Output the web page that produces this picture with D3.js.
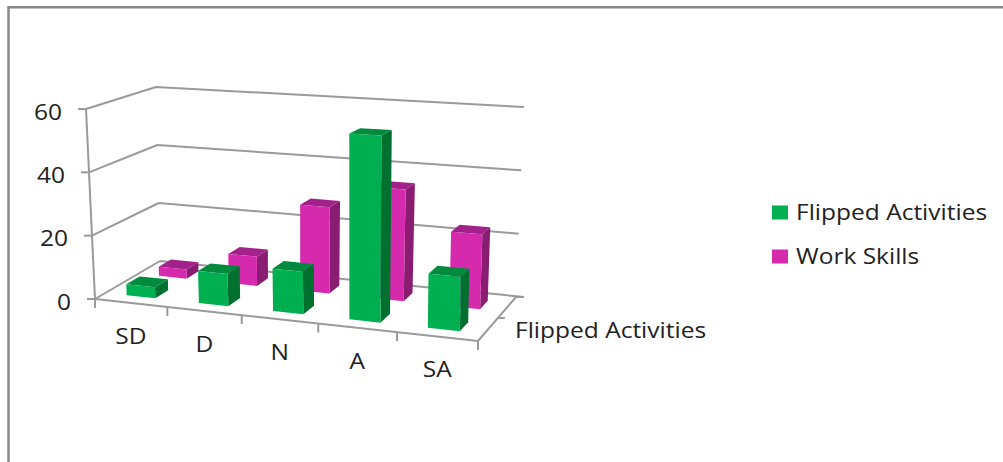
<!DOCTYPE html>
<html>
<head>
<meta charset="utf-8">
<script src="https://cdnjs.cloudflare.com/ajax/libs/d3/7.8.5/d3.min.js"></script>
<style>
html,body{margin:0;padding:0;background:#fff;}
svg{display:block;}
text{font-family:"Open Sans",sans-serif;fill:#222;}
</style>
</head>
<body>
<svg id="chart" width="1003" height="462"></svg>
<script>
const categories = ["SD", "D", "N", "A", "SA"];
const seriesNames = ["Work Skills", "Flipped Activities"];
const workSkills = [3, 9.5, 27.5, 35, 23];
const flippedActivities = [3.5, 10, 13, 56, 16];
const yTicks = [0, 20, 40, 60];

const fill = {
  "Flipped Activities": {front: "#00B050", side: "#00702F", top: "#008A3E"},
  "Work Skills": {front: "#D62AAE", side: "#8A1C72", top: "#A3218A"}
};

const svg = d3.select("#chart");

// Outer chart frame: only the top and left edges are visible
svg.append("path").attr("d", "M8.5,462V7.2H1003").attr("fill", "none")
  .attr("stroke", "#888").attr("stroke-width", 2.5);

// Perspective box: floor and ceiling quads as [front-left, front-right, back-right, back-left]
const floorQuad = [[95, 299], [478, 341], [516, 297], [160, 261]];
const ceilQuad = [[86, 109], [481.7, 132.4], [524, 107], [156, 87]];

// Unit-square to quad homography
function homography(q) {
  const [[x0, y0], [x1, y1], [x2, y2], [x3, y3]] = q;
  const dx1 = x1 - x2, dx2 = x3 - x2, sx = x0 - x1 + x2 - x3;
  const dy1 = y1 - y2, dy2 = y3 - y2, sy = y0 - y1 + y2 - y3;
  const den = dx1 * dy2 - dx2 * dy1;
  const g = (sx * dy2 - dx2 * sy) / den, h = (dx1 * sy - sx * dy1) / den;
  const a = x1 - x0 + g * x1, b = x3 - x0 + h * x3;
  const d = y1 - y0 + g * y1, e = y3 - y0 + h * y3;
  return (u, v) => {
    const w = g * u + h * v + 1;
    return [(a * u + b * v + x0) / w, (d * u + e * v + y0) / w];
  };
}
const onFloor = homography(floorQuad), onCeil = homography(ceilQuad);

const u = d3.scaleBand().domain(categories).range([0, 1]);
const v = d3.scaleBand().domain(["Flipped Activities", "Work Skills"]).range([0, 1]);
const y = d3.scaleLinear().domain([0, 60]).range([0, 1]);

// Project category position, depth position and value to the screen
function project(a, b, val) {
  const f = onFloor(a, b), c = onCeil(a, b), t = y(val);
  return [f[0] + (c[0] - f[0]) * t, f[1] + (c[1] - f[1]) * t];
}
const poly = pts => "M" + pts.map(p => p.map(n => n.toFixed(2)).join(",")).join("L") + "Z";
const seg = (p, q) => `M${p[0]},${p[1]}L${q[0]},${q[1]}`;

// Chart text is set wide: stretch each label horizontally beyond its natural advance
function label(x, yPos, str, anchor) {
  const t = svg.append("text").attr("x", x).attr("y", yPos)
    .attr("text-anchor", anchor).attr("dominant-baseline", "middle")
    .attr("font-size", 21.5).text(str);
  t.attr("textLength", t.node().getComputedTextLength() * 1.14)
    .attr("lengthAdjust", "spacingAndGlyphs");
  return t;
}

const grid = svg.append("g").attr("fill", "none").attr("stroke", "#9a9a9a").attr("stroke-width", 2);

// Gridlines on the left and back walls, with the value ticks on the front corner
yTicks.forEach(t => {
  const fl = project(0, 0, t), bl = project(0, 1, t), br = project(1, 1, t);
  grid.append("path").attr("d", seg(fl, bl) + seg(bl, [br[0] + (t === 0 ? 8 : 0), br[1]]));
  grid.append("path").attr("d", seg([fl[0] - 8, fl[1]], fl));
  label(fl[0] - 24, fl[1] + 5, t, "end");
});

// Vertical value axis
grid.append("path").attr("d", seg(project(0, 0, 60), project(0, 0, 0)));

// Floor outline, category ticks and depth ticks
grid.append("path").attr("d", seg(project(0, 0, 0), project(1, 0, 0)) + seg(project(1, 0, 0), project(1, 1, 0)));
d3.range(0, categories.length + 1).forEach(i => {
  const p = project(i / categories.length, 0, 0);
  grid.append("path").attr("d", seg(p, [p[0], p[1] + 9]));
});
[0.5, 1].forEach(b => {
  const p = project(1, b, 0);
  grid.append("path").attr("d", seg(p, [p[0] + 7, p[1]]));
});

// Bars: back row first so the front row overlaps it
const rows = [
  {name: "Work Skills", values: workSkills},
  {name: "Flipped Activities", values: flippedActivities}
];
rows.forEach(row => {
  const g = svg.append("g").attr("class", "series");
  const colors = fill[row.name];
  row.values.forEach((val, i) => {
    const cat = categories[i];
    const a0 = u(cat) + u.bandwidth() * 0.3, a1 = u(cat) + u.bandwidth() * 0.7;
    const b0 = v(row.name) + v.bandwidth() * 0.3, b1 = v(row.name) + v.bandwidth() * 0.7;
    g.append("path").attr("fill", colors.side)
      .attr("d", poly([project(a1, b0, 0), project(a1, b1, 0), project(a1, b1, val), project(a1, b0, val)]));
    g.append("path").attr("fill", colors.top)
      .attr("d", poly([project(a0, b0, val), project(a1, b0, val), project(a1, b1, val), project(a0, b1, val)]));
    g.append("path").attr("fill", colors.front)
      .attr("d", poly([project(a0, b0, 0), project(a1, b0, 0), project(a1, b0, val), project(a0, b0, val)]));
  });
});

// Category labels below the front floor edge
categories.forEach(c => {
  const p = project(u(c) + u.bandwidth() / 2, 0, 0);
  label(p[0], p[1] + 35, c, "middle");
});

// Depth axis label
label(515, 332, "Flipped Activities", "start");

// Legend
const legendItems = ["Flipped Activities", "Work Skills"];
const legendY = d3.scalePoint().domain(legendItems).range([212.5, 256.5]);
legendItems.forEach(name => {
  svg.append("rect").attr("x", 772).attr("y", legendY(name) - 7).attr("width", 16).attr("height", 14)
    .attr("fill", fill[name].front);
  label(796, legendY(name) + 1.5, name, "start");
});
</script>
</body>
</html>
